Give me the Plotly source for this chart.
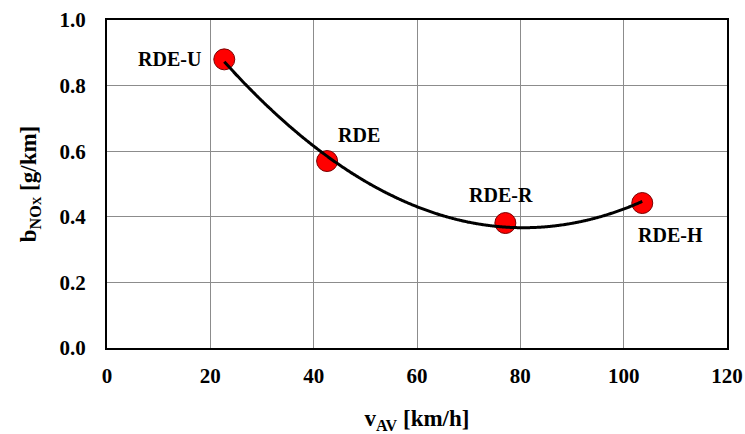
import numpy as np
import plotly.graph_objects as go

labels = ["RDE-U", "RDE", "RDE-R", "RDE-H"]
v_av = [22.7, 42.6, 77.1, 103.6]
b_nox = [0.880, 0.570, 0.381, 0.442]

# 2nd-order polynomial trendline fitted to the data
coef = np.polyfit(v_av, b_nox, 2)
xf = np.linspace(min(v_av), max(v_av), 300)
yf = np.polyval(coef, xf)

FONT = "Liberation Serif"

fig = go.Figure()
fig.add_trace(go.Scatter(x=v_av, y=b_nox, mode="markers",
                         marker=dict(color="#ff0000", size=21,
                                     line=dict(color="#7a0000", width=1)),
                         showlegend=False))
fig.add_trace(go.Scatter(x=xf, y=yf, mode="lines",
                         line=dict(color="black", width=3, shape="spline"),
                         hoverinfo="skip", showlegend=False))

offsets = {"RDE-U": (-55, 0), "RDE": (32, 26), "RDE-R": (-4, 28), "RDE-H": (28, -32)}
for lab, x, y in zip(labels, v_av, b_nox):
    dx, dy = offsets[lab]
    fig.add_annotation(x=x, y=y, text=lab, showarrow=False,
                       xshift=dx, yshift=dy,
                       font=dict(family=FONT, size=20, color="black", weight="bold"))

fig.update_layout(
    width=745, height=434,
    margin=dict(l=107, r=18, t=20, b=86),
    paper_bgcolor="white", plot_bgcolor="white",
    font=dict(family=FONT, color="black"),
)
fig.update_xaxes(range=[0, 120], dtick=20, showgrid=True, gridcolor="#8c8c8c",
                 gridwidth=1, showline=True, linecolor="black", linewidth=2,
                 mirror=True, zeroline=False, ticks="", automargin=False,
                 ticklabelstandoff=8, ticklabeloverflow="allow",
                 tickfont=dict(family=FONT, size=21, weight="bold"),
                 title=dict(text="<b>v<sub>AV</sub> [km/h]</b>",
                            font=dict(family=FONT, size=23), standoff=26))
fig.update_yaxes(range=[0, 1.0], dtick=0.2, tickformat=".1f", showgrid=True,
                 gridcolor="#8c8c8c", gridwidth=1, showline=True, linecolor="black",
                 linewidth=2, mirror=True, zeroline=False, ticks="", automargin=False,
                 ticklabelstandoff=15, ticklabeloverflow="allow",
                 tickfont=dict(family=FONT, size=21, weight="bold"),
                 title=dict(text="<b>b<sub>NO<span style='font-size:12px'>X</span></sub> [g/km]</b>",
                            font=dict(family=FONT, size=23), standoff=16))

fig.write_html("out.html", config={"displayModeBar": False},
               post_script="document.body.style.margin='0';document.body.style.overflow='hidden';")
